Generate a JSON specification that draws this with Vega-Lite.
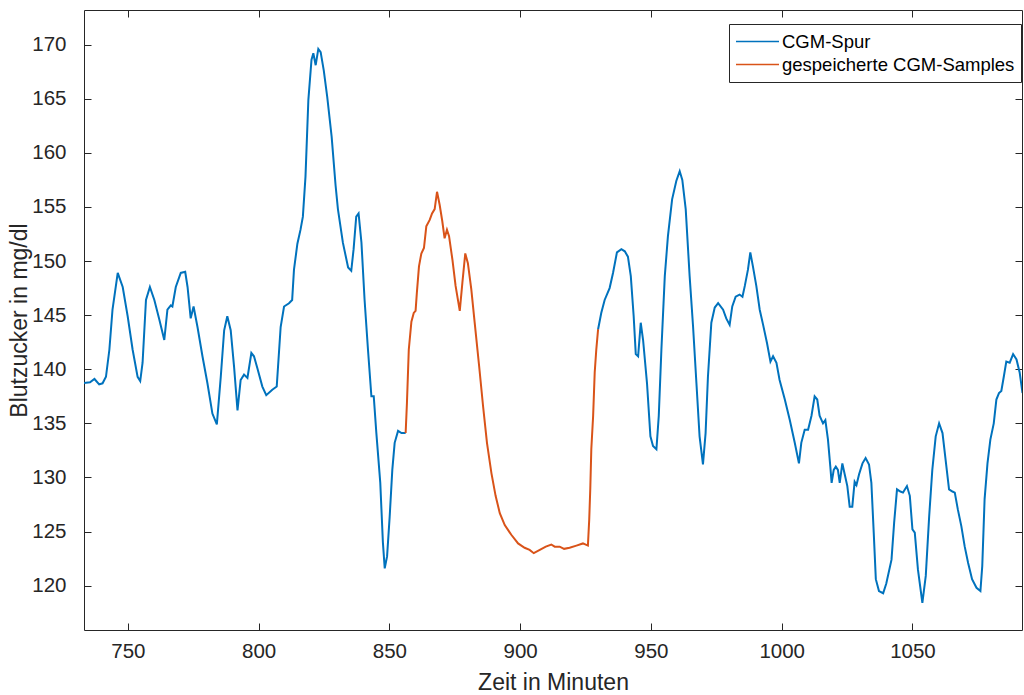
{
  "$schema": "https://vega.github.io/schema/vega-lite/v6.json",
  "width": 938,
  "height": 620,
  "autosize": {"type": "none"},
  "padding": {"left": 84, "top": 10, "right": 2, "bottom": 65},
  "background": "white",
  "config": {
    "view": {"stroke": "#262626", "strokeWidth": 1},
    "font": "Liberation Sans",
    "axis": {
      "grid": false,
      "domain": false,
      "offset": -7,
      "ticks": true,
      "tickColor": "#262626",
      "tickWidth": 1,
      "tickSize": 7,
      "labelColor": "#262626",
      "labelFont": "Liberation Sans",
      "labelFontSize": 20.5,
      "titleColor": "#262626",
      "titleFont": "Liberation Sans",
      "titleFontSize": 23,
      "titleFontWeight": "normal"
    }
  },
  "data": {
    "values": [
      {"t":732.7,"bz":138.7,"s":"CGM-Spur","seg":1},{"t":735.5,"bz":138.8,"s":"CGM-Spur","seg":1},{"t":737.2,"bz":139.1,"s":"CGM-Spur","seg":1},{"t":739.0,"bz":138.6,"s":"CGM-Spur","seg":1},{"t":740.3,"bz":138.7,"s":"CGM-Spur","seg":1},{"t":741.6,"bz":139.3,"s":"CGM-Spur","seg":1},{"t":742.9,"bz":141.8,"s":"CGM-Spur","seg":1},{"t":744.1,"bz":145.5,"s":"CGM-Spur","seg":1},{"t":746.1,"bz":148.9,"s":"CGM-Spur","seg":1},{"t":748.0,"bz":147.6,"s":"CGM-Spur","seg":1},{"t":749.9,"bz":144.9,"s":"CGM-Spur","seg":1},{"t":751.8,"bz":141.8,"s":"CGM-Spur","seg":1},{"t":753.7,"bz":139.3,"s":"CGM-Spur","seg":1},{"t":754.7,"bz":138.9,"s":"CGM-Spur","seg":1},{"t":755.6,"bz":140.6,"s":"CGM-Spur","seg":1},{"t":756.9,"bz":146.4,"s":"CGM-Spur","seg":1},{"t":758.4,"bz":147.6,"s":"CGM-Spur","seg":1},{"t":760.1,"bz":146.4,"s":"CGM-Spur","seg":1},{"t":762.0,"bz":144.6,"s":"CGM-Spur","seg":1},{"t":763.9,"bz":142.7,"s":"CGM-Spur","seg":1},{"t":765.1,"bz":145.5,"s":"CGM-Spur","seg":1},{"t":766.4,"bz":145.9,"s":"CGM-Spur","seg":1},{"t":767.0,"bz":145.8,"s":"CGM-Spur","seg":1},{"t":768.3,"bz":147.6,"s":"CGM-Spur","seg":1},{"t":770.2,"bz":148.9,"s":"CGM-Spur","seg":1},{"t":771.9,"bz":149.0,"s":"CGM-Spur","seg":1},{"t":772.8,"bz":147.6,"s":"CGM-Spur","seg":1},{"t":774.0,"bz":144.7,"s":"CGM-Spur","seg":1},{"t":775.1,"bz":145.8,"s":"CGM-Spur","seg":1},{"t":776.6,"bz":143.9,"s":"CGM-Spur","seg":1},{"t":778.5,"bz":141.2,"s":"CGM-Spur","seg":1},{"t":780.4,"bz":138.7,"s":"CGM-Spur","seg":1},{"t":782.3,"bz":135.9,"s":"CGM-Spur","seg":1},{"t":784.0,"bz":134.9,"s":"CGM-Spur","seg":1},{"t":785.5,"bz":139.3,"s":"CGM-Spur","seg":1},{"t":786.8,"bz":143.6,"s":"CGM-Spur","seg":1},{"t":788.0,"bz":144.9,"s":"CGM-Spur","seg":1},{"t":789.3,"bz":143.6,"s":"CGM-Spur","seg":1},{"t":790.6,"bz":140.2,"s":"CGM-Spur","seg":1},{"t":791.9,"bz":136.2,"s":"CGM-Spur","seg":1},{"t":793.1,"bz":139.0,"s":"CGM-Spur","seg":1},{"t":794.4,"bz":139.5,"s":"CGM-Spur","seg":1},{"t":795.7,"bz":139.2,"s":"CGM-Spur","seg":1},{"t":797.2,"bz":141.5,"s":"CGM-Spur","seg":1},{"t":798.2,"bz":141.2,"s":"CGM-Spur","seg":1},{"t":799.5,"bz":140.1,"s":"CGM-Spur","seg":1},{"t":801.4,"bz":138.4,"s":"CGM-Spur","seg":1},{"t":802.9,"bz":137.6,"s":"CGM-Spur","seg":1},{"t":805.2,"bz":138.1,"s":"CGM-Spur","seg":1},{"t":806.9,"bz":138.4,"s":"CGM-Spur","seg":1},{"t":808.4,"bz":143.9,"s":"CGM-Spur","seg":1},{"t":809.7,"bz":145.8,"s":"CGM-Spur","seg":1},{"t":811.6,"bz":146.1,"s":"CGM-Spur","seg":1},{"t":812.8,"bz":146.4,"s":"CGM-Spur","seg":1},{"t":813.5,"bz":149.2,"s":"CGM-Spur","seg":1},{"t":814.8,"bz":151.6,"s":"CGM-Spur","seg":1},{"t":816.0,"bz":152.9,"s":"CGM-Spur","seg":1},{"t":816.9,"bz":154.1,"s":"CGM-Spur","seg":1},{"t":817.9,"bz":157.8,"s":"CGM-Spur","seg":1},{"t":819.0,"bz":164.9,"s":"CGM-Spur","seg":1},{"t":820.2,"bz":168.6,"s":"CGM-Spur","seg":1},{"t":820.9,"bz":169.2,"s":"CGM-Spur","seg":1},{"t":821.8,"bz":168.1,"s":"CGM-Spur","seg":1},{"t":822.8,"bz":169.6,"s":"CGM-Spur","seg":1},{"t":823.7,"bz":169.3,"s":"CGM-Spur","seg":1},{"t":824.9,"bz":167.6,"s":"CGM-Spur","seg":1},{"t":826.2,"bz":165.2,"s":"CGM-Spur","seg":1},{"t":827.9,"bz":161.5,"s":"CGM-Spur","seg":1},{"t":829.4,"bz":157.0,"s":"CGM-Spur","seg":1},{"t":830.3,"bz":154.8,"s":"CGM-Spur","seg":1},{"t":832.2,"bz":151.7,"s":"CGM-Spur","seg":1},{"t":834.2,"bz":149.4,"s":"CGM-Spur","seg":1},{"t":835.4,"bz":149.1,"s":"CGM-Spur","seg":1},{"t":836.3,"bz":151.1,"s":"CGM-Spur","seg":1},{"t":837.3,"bz":154.1,"s":"CGM-Spur","seg":1},{"t":838.2,"bz":154.4,"s":"CGM-Spur","seg":1},{"t":839.3,"bz":151.7,"s":"CGM-Spur","seg":1},{"t":840.5,"bz":146.4,"s":"CGM-Spur","seg":1},{"t":841.8,"bz":141.8,"s":"CGM-Spur","seg":1},{"t":843.1,"bz":137.5,"s":"CGM-Spur","seg":1},{"t":844.0,"bz":137.5,"s":"CGM-Spur","seg":1},{"t":845.0,"bz":134.1,"s":"CGM-Spur","seg":1},{"t":846.5,"bz":129.5,"s":"CGM-Spur","seg":1},{"t":847.5,"bz":124.0,"s":"CGM-Spur","seg":1},{"t":848.2,"bz":121.6,"s":"CGM-Spur","seg":1},{"t":849.1,"bz":122.7,"s":"CGM-Spur","seg":1},{"t":850.1,"bz":126.4,"s":"CGM-Spur","seg":1},{"t":851.1,"bz":130.7,"s":"CGM-Spur","seg":1},{"t":852.0,"bz":133.2,"s":"CGM-Spur","seg":1},{"t":853.3,"bz":134.3,"s":"CGM-Spur","seg":1},{"t":854.6,"bz":134.1,"s":"CGM-Spur","seg":1},{"t":856.2,"bz":134.1,"s":"CGM-Spur","seg":1},
      {"t":856.2,"bz":134.1,"s":"gespeicherte CGM-Samples","seg":2},{"t":856.7,"bz":136.9,"s":"gespeicherte CGM-Samples","seg":2},{"t":857.4,"bz":141.8,"s":"gespeicherte CGM-Samples","seg":2},{"t":858.4,"bz":144.4,"s":"gespeicherte CGM-Samples","seg":2},{"t":859.3,"bz":145.2,"s":"gespeicherte CGM-Samples","seg":2},{"t":860.0,"bz":145.4,"s":"gespeicherte CGM-Samples","seg":2},{"t":860.5,"bz":147.1,"s":"gespeicherte CGM-Samples","seg":2},{"t":861.3,"bz":149.5,"s":"gespeicherte CGM-Samples","seg":2},{"t":862.2,"bz":150.7,"s":"gespeicherte CGM-Samples","seg":2},{"t":863.2,"bz":151.2,"s":"gespeicherte CGM-Samples","seg":2},{"t":864.1,"bz":153.2,"s":"gespeicherte CGM-Samples","seg":2},{"t":865.4,"bz":153.8,"s":"gespeicherte CGM-Samples","seg":2},{"t":866.3,"bz":154.4,"s":"gespeicherte CGM-Samples","seg":2},{"t":867.3,"bz":154.8,"s":"gespeicherte CGM-Samples","seg":2},{"t":868.2,"bz":156.4,"s":"gespeicherte CGM-Samples","seg":2},{"t":869.2,"bz":155.2,"s":"gespeicherte CGM-Samples","seg":2},{"t":870.2,"bz":153.7,"s":"gespeicherte CGM-Samples","seg":2},{"t":871.1,"bz":152.1,"s":"gespeicherte CGM-Samples","seg":2},{"t":872.0,"bz":152.9,"s":"gespeicherte CGM-Samples","seg":2},{"t":872.8,"bz":152.3,"s":"gespeicherte CGM-Samples","seg":2},{"t":874.1,"bz":150.1,"s":"gespeicherte CGM-Samples","seg":2},{"t":875.3,"bz":147.7,"s":"gespeicherte CGM-Samples","seg":2},{"t":876.9,"bz":145.4,"s":"gespeicherte CGM-Samples","seg":2},{"t":877.9,"bz":148.0,"s":"gespeicherte CGM-Samples","seg":2},{"t":879.0,"bz":150.7,"s":"gespeicherte CGM-Samples","seg":2},{"t":880.0,"bz":149.8,"s":"gespeicherte CGM-Samples","seg":2},{"t":881.3,"bz":147.4,"s":"gespeicherte CGM-Samples","seg":2},{"t":882.6,"bz":144.3,"s":"gespeicherte CGM-Samples","seg":2},{"t":884.3,"bz":140.3,"s":"gespeicherte CGM-Samples","seg":2},{"t":885.8,"bz":136.6,"s":"gespeicherte CGM-Samples","seg":2},{"t":887.3,"bz":133.2,"s":"gespeicherte CGM-Samples","seg":2},{"t":889.0,"bz":130.4,"s":"gespeicherte CGM-Samples","seg":2},{"t":890.6,"bz":128.3,"s":"gespeicherte CGM-Samples","seg":2},{"t":892.2,"bz":126.7,"s":"gespeicherte CGM-Samples","seg":2},{"t":894.1,"bz":125.6,"s":"gespeicherte CGM-Samples","seg":2},{"t":896.6,"bz":124.7,"s":"gespeicherte CGM-Samples","seg":2},{"t":899.2,"bz":123.9,"s":"gespeicherte CGM-Samples","seg":2},{"t":901.7,"bz":123.5,"s":"gespeicherte CGM-Samples","seg":2},{"t":903.6,"bz":123.3,"s":"gespeicherte CGM-Samples","seg":2},{"t":905.2,"bz":123.0,"s":"gespeicherte CGM-Samples","seg":2},{"t":907.5,"bz":123.3,"s":"gespeicherte CGM-Samples","seg":2},{"t":909.8,"bz":123.6,"s":"gespeicherte CGM-Samples","seg":2},{"t":911.9,"bz":123.8,"s":"gespeicherte CGM-Samples","seg":2},{"t":913.2,"bz":123.6,"s":"gespeicherte CGM-Samples","seg":2},{"t":915.1,"bz":123.6,"s":"gespeicherte CGM-Samples","seg":2},{"t":916.8,"bz":123.4,"s":"gespeicherte CGM-Samples","seg":2},{"t":918.9,"bz":123.5,"s":"gespeicherte CGM-Samples","seg":2},{"t":921.5,"bz":123.7,"s":"gespeicherte CGM-Samples","seg":2},{"t":924.0,"bz":123.9,"s":"gespeicherte CGM-Samples","seg":2},{"t":925.9,"bz":123.7,"s":"gespeicherte CGM-Samples","seg":2},{"t":926.4,"bz":126.1,"s":"gespeicherte CGM-Samples","seg":2},{"t":926.8,"bz":128.9,"s":"gespeicherte CGM-Samples","seg":2},{"t":927.2,"bz":132.6,"s":"gespeicherte CGM-Samples","seg":2},{"t":927.9,"bz":135.7,"s":"gespeicherte CGM-Samples","seg":2},{"t":928.5,"bz":139.7,"s":"gespeicherte CGM-Samples","seg":2},{"t":929.1,"bz":141.8,"s":"gespeicherte CGM-Samples","seg":2},{"t":929.8,"bz":143.7,"s":"gespeicherte CGM-Samples","seg":2},
      {"t":929.8,"bz":143.7,"s":"CGM-Spur","seg":3},{"t":931.0,"bz":145.2,"s":"CGM-Spur","seg":3},{"t":932.3,"bz":146.4,"s":"CGM-Spur","seg":3},{"t":934.2,"bz":147.5,"s":"CGM-Spur","seg":3},{"t":935.5,"bz":148.9,"s":"CGM-Spur","seg":3},{"t":937.0,"bz":150.8,"s":"CGM-Spur","seg":3},{"t":938.7,"bz":151.1,"s":"CGM-Spur","seg":3},{"t":940.0,"bz":150.9,"s":"CGM-Spur","seg":3},{"t":941.2,"bz":150.4,"s":"CGM-Spur","seg":3},{"t":942.3,"bz":148.6,"s":"CGM-Spur","seg":3},{"t":943.4,"bz":144.9,"s":"CGM-Spur","seg":3},{"t":944.2,"bz":141.4,"s":"CGM-Spur","seg":3},{"t":945.1,"bz":141.2,"s":"CGM-Spur","seg":3},{"t":946.1,"bz":144.3,"s":"CGM-Spur","seg":3},{"t":947.0,"bz":142.7,"s":"CGM-Spur","seg":3},{"t":948.5,"bz":138.7,"s":"CGM-Spur","seg":3},{"t":949.8,"bz":133.8,"s":"CGM-Spur","seg":3},{"t":950.8,"bz":132.9,"s":"CGM-Spur","seg":3},{"t":952.1,"bz":132.6,"s":"CGM-Spur","seg":3},{"t":953.0,"bz":135.7,"s":"CGM-Spur","seg":3},{"t":954.0,"bz":141.8,"s":"CGM-Spur","seg":3},{"t":955.3,"bz":148.6,"s":"CGM-Spur","seg":3},{"t":956.5,"bz":152.3,"s":"CGM-Spur","seg":3},{"t":958.1,"bz":155.7,"s":"CGM-Spur","seg":3},{"t":959.7,"bz":157.4,"s":"CGM-Spur","seg":3},{"t":961.0,"bz":158.3,"s":"CGM-Spur","seg":3},{"t":962.0,"bz":157.5,"s":"CGM-Spur","seg":3},{"t":963.3,"bz":154.8,"s":"CGM-Spur","seg":3},{"t":964.8,"bz":148.6,"s":"CGM-Spur","seg":3},{"t":966.1,"bz":144.0,"s":"CGM-Spur","seg":3},{"t":967.4,"bz":138.7,"s":"CGM-Spur","seg":3},{"t":968.6,"bz":133.8,"s":"CGM-Spur","seg":3},{"t":969.9,"bz":131.2,"s":"CGM-Spur","seg":3},{"t":970.9,"bz":134.1,"s":"CGM-Spur","seg":3},{"t":971.8,"bz":139.3,"s":"CGM-Spur","seg":3},{"t":973.1,"bz":144.3,"s":"CGM-Spur","seg":3},{"t":974.4,"bz":145.7,"s":"CGM-Spur","seg":3},{"t":975.7,"bz":146.1,"s":"CGM-Spur","seg":3},{"t":977.6,"bz":145.5,"s":"CGM-Spur","seg":3},{"t":978.8,"bz":144.7,"s":"CGM-Spur","seg":3},{"t":980.1,"bz":144.1,"s":"CGM-Spur","seg":3},{"t":981.1,"bz":145.8,"s":"CGM-Spur","seg":3},{"t":982.4,"bz":146.7,"s":"CGM-Spur","seg":3},{"t":983.9,"bz":146.9,"s":"CGM-Spur","seg":3},{"t":985.0,"bz":146.7,"s":"CGM-Spur","seg":3},{"t":985.9,"bz":147.7,"s":"CGM-Spur","seg":3},{"t":987.1,"bz":149.2,"s":"CGM-Spur","seg":3},{"t":988.0,"bz":150.8,"s":"CGM-Spur","seg":3},{"t":989.0,"bz":149.5,"s":"CGM-Spur","seg":3},{"t":990.3,"bz":147.7,"s":"CGM-Spur","seg":3},{"t":991.6,"bz":145.5,"s":"CGM-Spur","seg":3},{"t":992.9,"bz":144.1,"s":"CGM-Spur","seg":3},{"t":994.4,"bz":142.4,"s":"CGM-Spur","seg":3},{"t":995.7,"bz":140.7,"s":"CGM-Spur","seg":3},{"t":996.7,"bz":141.2,"s":"CGM-Spur","seg":3},{"t":998.0,"bz":140.6,"s":"CGM-Spur","seg":3},{"t":999.2,"bz":139.0,"s":"CGM-Spur","seg":3},{"t":1001.2,"bz":137.2,"s":"CGM-Spur","seg":3},{"t":1003.1,"bz":135.3,"s":"CGM-Spur","seg":3},{"t":1005.0,"bz":133.2,"s":"CGM-Spur","seg":3},{"t":1006.6,"bz":131.3,"s":"CGM-Spur","seg":3},{"t":1007.5,"bz":133.2,"s":"CGM-Spur","seg":3},{"t":1008.8,"bz":134.4,"s":"CGM-Spur","seg":3},{"t":1010.1,"bz":134.4,"s":"CGM-Spur","seg":3},{"t":1011.4,"bz":135.7,"s":"CGM-Spur","seg":3},{"t":1012.6,"bz":137.5,"s":"CGM-Spur","seg":3},{"t":1013.6,"bz":137.2,"s":"CGM-Spur","seg":3},{"t":1014.5,"bz":135.7,"s":"CGM-Spur","seg":3},{"t":1015.8,"bz":135.0,"s":"CGM-Spur","seg":3},{"t":1016.7,"bz":135.3,"s":"CGM-Spur","seg":3},{"t":1017.7,"bz":133.5,"s":"CGM-Spur","seg":3},{"t":1018.6,"bz":131.0,"s":"CGM-Spur","seg":3},{"t":1019.1,"bz":129.5,"s":"CGM-Spur","seg":3},{"t":1019.9,"bz":130.7,"s":"CGM-Spur","seg":3},{"t":1020.7,"bz":131.0,"s":"CGM-Spur","seg":3},{"t":1021.5,"bz":130.7,"s":"CGM-Spur","seg":3},{"t":1022.2,"bz":129.5,"s":"CGM-Spur","seg":3},{"t":1023.2,"bz":131.3,"s":"CGM-Spur","seg":3},{"t":1024.1,"bz":130.3,"s":"CGM-Spur","seg":3},{"t":1025.1,"bz":129.2,"s":"CGM-Spur","seg":3},{"t":1026.0,"bz":127.3,"s":"CGM-Spur","seg":3},{"t":1027.0,"bz":127.3,"s":"CGM-Spur","seg":3},{"t":1027.9,"bz":129.6,"s":"CGM-Spur","seg":3},{"t":1028.6,"bz":129.3,"s":"CGM-Spur","seg":3},{"t":1029.6,"bz":130.3,"s":"CGM-Spur","seg":3},{"t":1030.9,"bz":131.3,"s":"CGM-Spur","seg":3},{"t":1032.1,"bz":131.8,"s":"CGM-Spur","seg":3},{"t":1033.4,"bz":131.2,"s":"CGM-Spur","seg":3},{"t":1034.3,"bz":129.5,"s":"CGM-Spur","seg":3},{"t":1035.2,"bz":124.9,"s":"CGM-Spur","seg":3},{"t":1036.0,"bz":120.6,"s":"CGM-Spur","seg":3},{"t":1037.2,"bz":119.5,"s":"CGM-Spur","seg":3},{"t":1038.8,"bz":119.3,"s":"CGM-Spur","seg":3},{"t":1040.0,"bz":120.2,"s":"CGM-Spur","seg":3},{"t":1042.0,"bz":122.4,"s":"CGM-Spur","seg":3},{"t":1043.0,"bz":125.8,"s":"CGM-Spur","seg":3},{"t":1044.1,"bz":128.9,"s":"CGM-Spur","seg":3},{"t":1045.4,"bz":128.7,"s":"CGM-Spur","seg":3},{"t":1046.4,"bz":128.6,"s":"CGM-Spur","seg":3},{"t":1047.9,"bz":129.2,"s":"CGM-Spur","seg":3},{"t":1049.0,"bz":128.3,"s":"CGM-Spur","seg":3},{"t":1050.0,"bz":125.2,"s":"CGM-Spur","seg":3},{"t":1050.9,"bz":124.9,"s":"CGM-Spur","seg":3},{"t":1052.1,"bz":121.5,"s":"CGM-Spur","seg":3},{"t":1053.8,"bz":118.4,"s":"CGM-Spur","seg":3},{"t":1055.1,"bz":120.9,"s":"CGM-Spur","seg":3},{"t":1056.4,"bz":126.4,"s":"CGM-Spur","seg":3},{"t":1057.6,"bz":130.7,"s":"CGM-Spur","seg":3},{"t":1058.9,"bz":133.8,"s":"CGM-Spur","seg":3},{"t":1060.2,"bz":135.0,"s":"CGM-Spur","seg":3},{"t":1061.5,"bz":134.1,"s":"CGM-Spur","seg":3},{"t":1062.7,"bz":131.6,"s":"CGM-Spur","seg":3},{"t":1064.0,"bz":128.9,"s":"CGM-Spur","seg":3},{"t":1065.3,"bz":128.7,"s":"CGM-Spur","seg":3},{"t":1066.2,"bz":128.6,"s":"CGM-Spur","seg":3},{"t":1067.4,"bz":127.0,"s":"CGM-Spur","seg":3},{"t":1068.7,"bz":125.5,"s":"CGM-Spur","seg":3},{"t":1070.0,"bz":123.6,"s":"CGM-Spur","seg":3},{"t":1071.3,"bz":122.1,"s":"CGM-Spur","seg":3},{"t":1072.8,"bz":120.6,"s":"CGM-Spur","seg":3},{"t":1074.5,"bz":119.8,"s":"CGM-Spur","seg":3},{"t":1076.0,"bz":119.5,"s":"CGM-Spur","seg":3},{"t":1076.7,"bz":121.8,"s":"CGM-Spur","seg":3},{"t":1077.6,"bz":128.0,"s":"CGM-Spur","seg":3},{"t":1078.7,"bz":131.3,"s":"CGM-Spur","seg":3},{"t":1079.8,"bz":133.5,"s":"CGM-Spur","seg":3},{"t":1081.1,"bz":135.0,"s":"CGM-Spur","seg":3},{"t":1082.1,"bz":137.2,"s":"CGM-Spur","seg":3},{"t":1083.1,"bz":137.8,"s":"CGM-Spur","seg":3},{"t":1084.0,"bz":138.0,"s":"CGM-Spur","seg":3},{"t":1085.0,"bz":139.4,"s":"CGM-Spur","seg":3},{"t":1085.9,"bz":140.7,"s":"CGM-Spur","seg":3},{"t":1087.2,"bz":140.6,"s":"CGM-Spur","seg":3},{"t":1088.5,"bz":141.4,"s":"CGM-Spur","seg":3},{"t":1089.8,"bz":140.9,"s":"CGM-Spur","seg":3},{"t":1091.0,"bz":139.7,"s":"CGM-Spur","seg":3},{"t":1092.1,"bz":137.8,"s":"CGM-Spur","seg":3}
    ]
  },
  "layer": [
    {
      "mark": {"type": "line", "strokeWidth": 2, "clip": true},
      "encoding": {
        "x": {
          "field": "t", "type": "quantitative",
          "scale": {"domain": [733.2, 1091.9], "nice": false, "zero": false},
          "axis": {"orient": "bottom", "values": [750, 800, 850, 900, 950, 1000, 1050], "format": "d", "title": "Zeit in Minuten", "labelPadding": 11, "titlePadding": 10}
        },
        "y": {
          "field": "bz", "type": "quantitative",
          "scale": {"domain": [115.9, 173.2], "nice": false, "zero": false},
          "axis": {"orient": "left", "values": [120, 125, 130, 135, 140, 145, 150, 155, 160, 165, 170], "format": "d", "title": "Blutzucker in mg/dl", "labelPadding": 18, "titlePadding": 0}
        },
        "color": {
          "field": "s", "type": "nominal",
          "scale": {"domain": ["CGM-Spur", "gespeicherte CGM-Samples"], "range": ["#0072BD", "#D95319"]},
          "legend": {
            "title": null,
            "orient": "none",
            "legendX": 645,
            "legendY": 14,
            "symbolType": "stroke",
            "symbolSize": 1849,
            "symbolStrokeWidth": 1.5,
            "clipHeight": 23,
            "labelFontSize": 18.5,
            "labelLimit": 500,
            "labelColor": "#000000",
            "labelOffset": 2,
            "rowPadding": 0,
            "padding": 6,
            "strokeColor": "#262626",
            "fillColor": "white"
          }
        },
        "detail": {"field": "seg", "type": "nominal"}
      }
    },
    {
      "mark": {"type": "line", "opacity": 0},
      "encoding": {
        "x": {
          "field": "t", "type": "quantitative",
          "axis": {"orient": "top", "values": [750, 800, 850, 900, 950, 1000, 1050], "labels": false, "title": null}
        },
        "y": {
          "field": "bz", "type": "quantitative",
          "axis": {"orient": "right", "values": [120, 125, 130, 135, 140, 145, 150, 155, 160, 165, 170], "labels": false, "title": null}
        },
        "detail": {"field": "seg", "type": "nominal"}
      }
    }
  ],
  "resolve": {"axis": {"x": "independent", "y": "independent"}}
}
